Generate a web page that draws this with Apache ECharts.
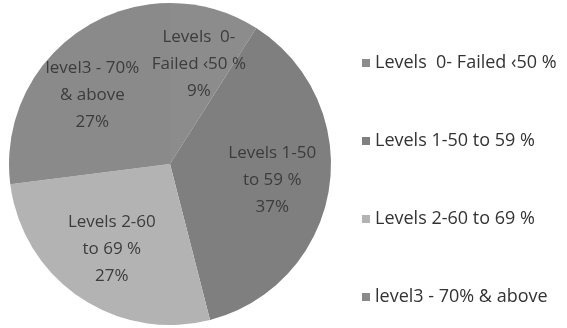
<!DOCTYPE html>
<html>
<head>
<meta charset="utf-8">
<script src="https://cdn.jsdelivr.net/npm/echarts@6/dist/echarts.min.js"></script>
<style>
	html, body { margin: 0; padding: 0; background: #fff; }
	#chartLevels { width: 567px; height: 328px; }
</style>
</head>
<body>
<div id="chartLevels"></div>
<script type="text/javascript">
	// data
	var categories = ['Levels  0- Failed \u203950 %', 'Levels 1-50 to 59 %', 'Levels 2-60 to 69 %', 'level3 - 70% & above'];
	var sliceLabels = ['Levels  0-\nFailed \u203950 %', 'Levels 1-50\nto 59 %', 'Levels 2-60\nto 69 %', 'level3 - 70%\n& above'];
	var values = [9, 37, 27, 27];
	var sliceColors = ['#8c8c8c', '#7f7f7f', '#b3b3b3', '#8a8a8a'];

	var pieData = categories.map(function (name, i) {
		return { name: name, value: values[i] };
	});

	var chartLevels = echarts.init(document.getElementById('chartLevels'));
	var option_levels = {
		animation: false,
		color: sliceColors,
		legend: {
			orient: 'vertical',
			left: 357,
			top: 48,
			itemWidth: 8,
			itemHeight: 8,
			itemGap: 58,
			icon: 'rect',
			data: categories,
			textStyle: {
				fontFamily: 'Open Sans',
				fontSize: 18,
				color: '#333',
				lineHeight: 20
			}
		},
		series: [
			{
				// the visible pie
				type: 'pie',
				center: [170, 164],
				radius: [0, 161],
				startAngle: 90,
				clockwise: true,
				silent: true,
				label: { show: false },
				labelLine: { show: false },
				data: pieData
			},
			{
				// transparent ring that only carries the slice labels
				type: 'pie',
				center: [170, 164],
				radius: [40, 161],
				startAngle: 90,
				clockwise: true,
				silent: true,
				legendHoverLink: false,
				itemStyle: { color: 'rgba(0,0,0,0)' },
				label: {
					show: true,
					position: 'inside',
					fontFamily: 'Open Sans',
					fontSize: 17,
					lineHeight: 27,
					color: '#3c3c3c',
					formatter: function (p) {
						return sliceLabels[p.dataIndex] + '\n' + Math.round(p.percent) + '%';
					}
				},
				labelLine: { show: false },
				data: pieData
			}
		]
	};
	chartLevels.setOption(option_levels);
	window.onresize = function() {
		chartLevels.resize();
	};
</script>
</body>
</html>
